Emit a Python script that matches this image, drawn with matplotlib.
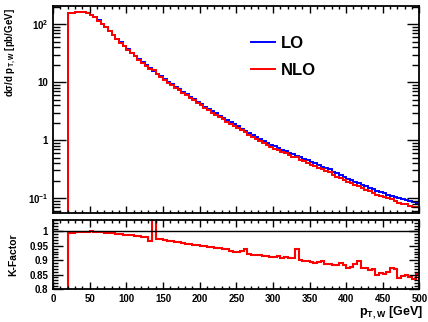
import numpy as np
import matplotlib
matplotlib.use("Agg")
import matplotlib.pyplot as plt
from matplotlib.ticker import MultipleLocator, LogLocator, FixedLocator, FixedFormatter, NullFormatter

plt.rcParams["font.family"] = ["Liberation Sans", "DejaVu Sans"]
plt.rcParams["font.weight"] = "bold"
plt.rcParams["mathtext.fontset"] = "custom"
plt.rcParams["mathtext.rm"] = "Liberation Sans:bold"
plt.rcParams["mathtext.it"] = "Liberation Sans:bold"
plt.rcParams["mathtext.bf"] = "Liberation Sans:bold"

# 5 GeV bins from 20 to 500 GeV (nothing below 20 GeV)
PT_LOW = 20
PT_HIGH = 500
BIN_W = 5

# LO differential cross section [pb/GeV]
lo_xsec = [
    158, 160, 162, 163, 162, 157, 148, 133, 117, 102,
    89, 77, 66, 57, 49, 42.7, 37.2, 32.4, 28.5, 25.1,
    22.1, 19.5, 17.4, 15.5, 14.0, 12.6, 11.35, 10.2, 9.2, 8.3,
    7.55, 6.84, 6.19, 5.62, 5.09, 4.62, 4.19, 3.80, 3.47, 3.16,
    2.90, 2.65, 2.43, 2.22, 2.04, 1.87, 1.72, 1.585, 1.46, 1.34,
    1.24, 1.14, 1.05, 0.966, 0.90, 0.84, 0.785, 0.733, 0.687, 0.646,
    0.607, 0.571, 0.54, 0.507, 0.477, 0.447, 0.42, 0.395, 0.372, 0.348,
    0.326, 0.316, 0.285, 0.266, 0.248, 0.232, 0.217, 0.204, 0.191, 0.18,
    0.169, 0.159, 0.150, 0.142, 0.134, 0.127, 0.120, 0.114, 0.108, 0.1035,
    0.099, 0.095, 0.091, 0.088, 0.085, 0.082,
]

# K-factor NLO/LO per bin
k_factor = [
    0.996, 0.996, 0.997, 0.997, 0.998, 0.999, 1.000, 0.999, 0.998, 0.997,
    0.996, 0.995, 0.993, 0.992, 0.990, 0.989, 0.987, 0.986, 0.984, 0.983,
    0.981, 0.979, 0.968, 1.060, 0.974, 0.972, 0.970, 0.968, 0.966, 0.964,
    0.962, 0.960, 0.958, 0.956, 0.954, 0.953, 0.951, 0.949, 0.947, 0.945,
    0.943, 0.941, 0.939, 0.938, 0.931, 0.930, 0.930, 0.931, 0.939, 0.920,
    0.917, 0.918, 0.918, 0.913, 0.915, 0.912, 0.911, 0.913, 0.909, 0.910,
    0.906, 0.906, 0.938, 0.902, 0.899, 0.897, 0.893, 0.889, 0.895, 0.896,
    0.886, 0.887, 0.884, 0.882, 0.891, 0.882, 0.874, 0.877, 0.888, 0.897,
    0.874, 0.872, 0.866, 0.868, 0.848, 0.855, 0.853, 0.860, 0.872, 0.870,
    0.838, 0.845, 0.848, 0.840, 0.836, 0.852,
]

log_ticks = [0.1, 1, 10, 100]
log_tick_labels = [r"$10^{-1}$", "1", "10", r"$10^{2}$"]
k_ticks = [0.8, 0.85, 0.9, 0.95, 1.0]
k_tick_labels = ["0.8", "0.85", "0.9", "0.95", "1"]

BLUE = "#0000ff"
RED = "#ff0000"

lo = np.array(lo_xsec)
kf = np.array(k_factor)
nlo = lo * kf

# empty bins below PT_LOW so the histogram rises from the bottom
n_empty = PT_LOW // BIN_W
edges = np.arange(0, PT_HIGH + BIN_W, BIN_W)
lo_full = np.concatenate([np.full(n_empty, 1e-4), lo])
nlo_full = np.concatenate([np.full(n_empty, 1e-4), nlo])
kf_full = np.concatenate([np.zeros(n_empty), kf])

fig = plt.figure(figsize=(4.28, 3.22), dpi=100)
ax1 = fig.add_axes([0.124, 0.3385, 0.856, 0.6425])
ax2 = fig.add_axes([0.124, 0.1025, 0.856, 0.2145])


def style_axes(ax):
    for s in ax.spines.values():
        s.set_linewidth(1.3)
    ax.tick_params(which="both", direction="in", top=True, right=True,
                   width=1.0, labelsize=7)
    ax.xaxis.set_major_locator(MultipleLocator(50))
    ax.xaxis.set_minor_locator(MultipleLocator(10))
    ax.set_xlim(0, PT_HIGH)


# --- top: cross sections ---------------------------------------------
ax1.stairs(lo_full, edges, baseline=None, color=BLUE, lw=1.4)
ax1.stairs(nlo_full, edges, baseline=None, color=RED, lw=1.4)
ax1.set_yscale("log")
ax1.set_ylim(0.055, 207)
style_axes(ax1)
ax1.yaxis.set_major_locator(FixedLocator(log_ticks))
ax1.yaxis.set_major_formatter(FixedFormatter(log_tick_labels))
ax1.yaxis.set_minor_locator(LogLocator(base=10, subs=np.arange(2, 10)))
ax1.yaxis.set_minor_formatter(NullFormatter())
ax1.tick_params(axis="y", which="major", length=9)
ax1.tick_params(axis="y", which="minor", length=5)
ax1.tick_params(axis="x", which="major", length=5)
ax1.tick_params(axis="x", which="minor", length=2.5)
ax1.tick_params(axis="x", labelbottom=False)
ax1.set_ylabel(r"d$\sigma$/d p$_{T,W}$ [pb/GeV]", fontsize=7, fontweight="bold")
ax1.yaxis.set_label_coords(-0.095, 0.99)
ax1.yaxis.label.set_ha("right")

ax1.legend(
    [plt.Line2D([], [], color=BLUE, lw=1.4), plt.Line2D([], [], color=RED, lw=1.4)],
    ["LO", "NLO"], loc="upper left", bbox_to_anchor=(0.50, 0.93),
    frameon=False, prop={"weight": "bold", "size": 12},
    handlelength=1.45, handletextpad=0.35, labelspacing=0.75,
)

# --- bottom: K-factor ------------------------------------------------
ax2.axhline(1.0, color="black", lw=1.0)
ax2.stairs(kf_full, edges, baseline=None, color=RED, lw=1.5)
ax2.set_ylim(0.8, 1.04)
style_axes(ax2)
ax2.yaxis.set_major_locator(FixedLocator(k_ticks))
ax2.yaxis.set_major_formatter(FixedFormatter(k_tick_labels))
ax2.yaxis.set_minor_locator(MultipleLocator(0.01))
ax2.tick_params(axis="y", which="major", length=7)
ax2.tick_params(axis="y", which="minor", length=3.5)
ax2.tick_params(axis="x", which="major", length=5)
ax2.tick_params(axis="x", which="minor", length=2.5)
ax2.set_ylabel("K-Factor", fontsize=7.5, fontweight="bold")
ax2.yaxis.set_label_coords(-0.095, 0.8)
ax2.yaxis.label.set_ha("right")
ax2.set_xlabel(r"p$_{T,W}$ [GeV]", fontsize=9, fontweight="bold")
ax2.xaxis.set_label_coords(1.01, -0.22)
ax2.xaxis.label.set_ha("right")

fig.savefig("out.png", dpi=100)
